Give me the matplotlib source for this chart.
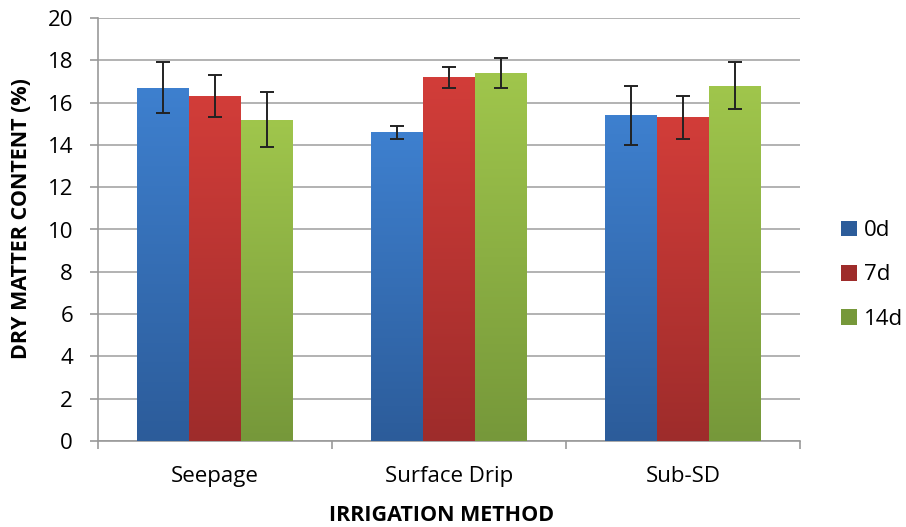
import matplotlib.pyplot as plt
import numpy as np
from matplotlib.colors import LinearSegmentedColormap
from matplotlib.patches import Patch

plt.rcParams["font.family"] = ["Open Sans", "DejaVu Sans"]

categories = ["Seepage", "Surface Drip", "Sub-SD"]
series = ["0d", "7d", "14d"]
values = {
    "0d": [16.7, 14.6, 15.4],
    "7d": [16.3, 17.2, 15.3],
    "14d": [15.2, 17.4, 16.8],
}
errors = {
    "0d": [1.2, 0.3, 1.4],
    "7d": [1.0, 0.5, 1.0],
    "14d": [1.3, 0.7, 1.1],
}
# (top colour, bottom colour) for the Excel-like gradient
colors = {
    "0d": ("#3e80cf", "#2c5c9a"),
    "7d": ("#d23d39", "#9e2c2b"),
    "14d": ("#a0c64c", "#76983a"),
}

fig = plt.figure(figsize=(9.06, 5.27), dpi=100)
ax = fig.add_axes([98 / 906, 86 / 527, 702 / 906, 423 / 527])

x = np.arange(len(categories))
width = 0.222
offsets = [-width, 0, width]

for name, off in zip(series, offsets):
    top, bottom = colors[name]
    cmap = LinearSegmentedColormap.from_list(name, [bottom, top])
    bars = ax.bar(x + off, values[name], width, color=top, edgecolor="none",
                  zorder=2)
    for bar in bars:
        bx, by = bar.get_x(), bar.get_y()
        bw, bh = bar.get_width(), bar.get_height()
        grad = np.linspace(0, 1, 256).reshape(-1, 1)
        im = ax.imshow(grad, cmap=cmap, origin="lower", aspect="auto",
                       extent=[bx, bx + bw, by, by + bh], zorder=3)
        im.set_clip_path(bar)
    ax.errorbar(x + off, values[name], yerr=errors[name], fmt="none",
                ecolor="#222222", elinewidth=1.4, capsize=5, capthick=1.4,
                zorder=4)

ax.set_xlim(-0.5, len(categories) - 0.5)
ax.set_ylim(0, 20)
ax.set_yticks(np.arange(0, 21, 2))
ax.set_xticks(x)
ax.set_xticklabels(categories, fontsize=16)
ax.tick_params(axis="y", labelsize=16, length=6, color="#999999", width=1.2,
               pad=12)
ax.tick_params(axis="x", length=0, pad=18)
# category separators on x axis
ax.set_xticks(np.arange(-0.5, len(categories), 1), minor=True)
ax.tick_params(axis="x", which="minor", length=6, color="#999999", width=1.2)

ax.grid(axis="y", color="#a6a6a6", linewidth=1.2, zorder=0)
ax.set_axisbelow(True)
for side in ["top", "right"]:
    ax.spines[side].set_visible(False)
for side in ["left", "bottom"]:
    ax.spines[side].set_color("#999999")
    ax.spines[side].set_linewidth(1.2)

ax.set_ylabel("DRY MATTER CONTENT (%)", fontsize=15.5, fontweight="bold")
ax.yaxis.set_label_coords(-0.094, 0.527)
ax.set_xlabel("IRRIGATION METHOD", fontsize=15.5, fontweight="bold")
ax.xaxis.set_label_coords(0.489, -0.151)

handles = [Patch(facecolor=colors[s][1], label=s) for s in series]
fig.legend(handles=handles, loc="center left",
           bbox_to_anchor=(841 / 906, 1 - 275 / 527), frameon=False,
           fontsize=16, handlelength=0.7, handleheight=0.7,
           labelspacing=1.05, handletextpad=0.35, borderpad=0,
           borderaxespad=0)

fig.savefig("out.png", dpi=100)
